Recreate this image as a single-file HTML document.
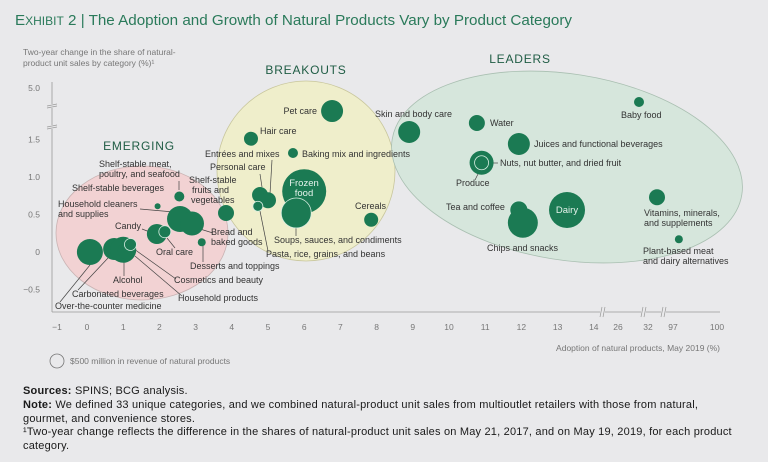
<!DOCTYPE html>
<html><head><meta charset="utf-8"><style>
body{margin:0;background:#e9e9eb;font-family:"Liberation Sans",sans-serif}
#wrap{position:relative;width:768px;height:462px;overflow:hidden;background:#e9e9eb}
svg text{font-family:"Liberation Sans",sans-serif}
.f{position:absolute;left:23px;font-size:11px;color:#1a1a1a;line-height:13.5px;width:730px;letter-spacing:0.2px}
</style></head><body>
<div id="wrap">
<svg id="c" width="768" height="462">
<text x="15" y="25" font-size="15.2" fill="#2a7a5a">E<tspan font-size="12">XHIBIT</tspan> 2 | The Adoption and Growth of Natural Products Vary by Product Category</text>
<g id="clusters"></g>
<g id="axes"></g>
<g id="lines" stroke="#444" stroke-width="0.7" fill="none"></g>
<g id="bubbles"></g>
<g id="labels" font-size="9" fill="#333"></g>
</svg>
<div class="f" style="top:385px"><b>Sources:</b> SPINS; BCG analysis.</div>
<div class="f" style="top:399px"><b>Note:</b> We defined 33 unique categories, and we combined natural-product unit sales from multioutlet retailers with those from natural,<br>gourmet, and convenience stores.</div>
<div class="f" style="top:426px">¹Two-year change reflects the difference in the shares of natural-product unit sales on May 21, 2017, and on May 19, 2019, for each product<br>category.</div>
</div>
<script>
const names=["Over-the-counter medicine","Carbonated beverages","Alcohol","Household products","Cosmetics and beauty","Candy","Oral care","Shelf-stable meat","Shelf-stable beverages","Household cleaners","Bread and baked goods","Desserts and toppings","Shelf-stable fruits","Personal care","Entrees and mixes","Pasta rice","Hair care","Pet care","Baking mix","Frozen food","Soups sauces","Cereals","Skin and body care","Water","Juices","Nuts","Produce","Tea and coffee","Chips and snacks","Dairy","Baby food","Vitamins","Plant-based meat"];
const adoption=[0.08,0.75,1.0,1.1,1.2,1.93,2.15,2.55,1.95,2.57,2.9,3.17,3.84,4.78,5.0,4.72,4.53,6.77,5.69,6.0,5.78,7.85,8.9,10.77,11.93,10.9,10.9,11.93,12.04,13.26,30.2,55.4,97.4];
const change=[0,0.04,0.03,0.02,0.1,0.24,0.27,0.74,0.61,0.44,0.38,0.13,0.52,0.76,0.69,0.61,1.52,3.42,1.32,0.81,0.52,0.43,1.98,2.6,1.44,1.19,1.19,0.56,0.39,0.56,4.04,0.73,0.17];
const revenue=[1724,1235,1724,830,367,1020,367,255,92,1724,1470,163,653,653,653,255,500,1235,255,4939,2296,500,1235,653,1235,1470,500,826,2296,3306,255,653,163];
const outlined=[4,6,15,20,26,27];
const xTicks=[-1,0,1,2,3,4,5,6,7,8,9,10,11,12,13,14,26,32,97,100];
const yTicks=[-0.5,0,0.5,1.0,1.5,5.0];
function xs(v){if(v<0)return 87+30*v;if(v<=14)return 87+36.2*v;if(v<=26)return 594+(v-14)*2;if(v<=32)return 618+(v-26)*5;if(v<=97)return 648+(v-32)*25/65;return 673+(v-97)*44/3;}
function ys(v){return v<=1.5?252-75*v:139-(v-1.5)*14.57;}
function rs(r){return 7*Math.sqrt(r/500);}
const NS="http://www.w3.org/2000/svg";
function mk(p,t,a){const e=document.createElementNS(NS,t);for(const k in a)e.setAttribute(k,a[k]);document.getElementById(p).appendChild(e);return e;}
let e;
e=mk("clusters","ellipse",{cx:142,cy:233,rx:86,ry:67,fill:"#f2d2d3",stroke:"#c9b3b3","stroke-width":0.8});


e=mk("clusters","ellipse",{cx:306,cy:171,rx:89,ry:90,fill:"#efeecb",stroke:"#c8c69c","stroke-width":0.8});


e=mk("clusters","ellipse",{cx:567,cy:167,rx:177,ry:93,fill:"#d6e6dc",stroke:"#a9bfb1","stroke-width":0.8,transform:"rotate(9 567 167)"});


e=mk("axes","line",{x1:52,y1:82,x2:52,y2:312,stroke:"#999","stroke-width":0.8});


e=mk("axes","line",{x1:52,y1:312,x2:720,y2:312,stroke:"#999","stroke-width":0.8});


[[107],[128]].forEach(b=>{mk("axes","rect",{x:47,y:b[0]-3,width:10,height:4,fill:"#e9e9eb"});mk("axes","line",{x1:47,y1:b[0]-1,x2:57,y2:b[0]-3,stroke:"#999","stroke-width":0.7});mk("axes","line",{x1:47,y1:b[0]+1,x2:57,y2:b[0]-1,stroke:"#999","stroke-width":0.7});});
[603,644,664].forEach(b=>{mk("axes","rect",{x:b-3,y:307,width:5,height:10,fill:"#e9e9eb"});mk("axes","line",{x1:b-3,y1:317,x2:b-1,y2:307,stroke:"#999","stroke-width":0.7});mk("axes","line",{x1:b,y1:317,x2:b+2,y2:307,stroke:"#999","stroke-width":0.7});});
xTicks.forEach(t=>{const el=mk("axes","text",{x:xs(t),y:330,"font-size":8.5,fill:"#777","text-anchor":"middle"});el.textContent=t<0?"\u2212"+(-t):t;

});
yTicks.forEach(t=>{const el=mk("axes","text",{x:40,y:ys(t)+3,"font-size":8.5,fill:"#777","text-anchor":"end"});el.textContent=t<0?"\u2212"+(-t).toFixed(1):(t===0?"0":t.toFixed(1));

});
[["Two-year change in the share of natural-",23,55],["product unit sales by category (%)¹",23,66]].forEach(a=>{const el=mk("axes","text",{x:a[1],y:a[2],"font-size":8.5,fill:"#777"});el.textContent=a[0];

});
e=mk("axes","text",{x:720,y:351,"font-size":8.5,fill:"#777","text-anchor":"end"});e.textContent="Adoption of natural products, May 2019 (%)";


e=mk("axes","circle",{cx:57,cy:361,r:7,fill:"none",stroke:"#777","stroke-width":0.8});


e=mk("axes","text",{x:70,y:364,"font-size":8.5,fill:"#777"});e.textContent="$500 million in revenue of natural products";


[[90,265,60,302],[108,258,78,290],[124,262,124,276],[135,256,182,296],[134,249,176,279],[142,229,155,234],[167,238,175,248],[179,190,179,181],[185,213,140,209],[200,229,213,233],[203,246,203,262],[262,187,260,174],[270,194,272,160],[260,211,268,251],[296,228,296,236],[485,163,498,163],[480,170,475,180]].forEach(l=>mk("lines","line",{x1:l[0],y1:l[1],x2:l[2],y2:l[3]}));
adoption.forEach((a,i)=>{const o=outlined.includes(i);
const c=mk("bubbles","circle",{cx:xs(a),cy:ys(change[i]),r:rs(revenue[i]),fill:"#1b7a53",stroke:o?"#d8eee2":"none","stroke-width":o?0.8:0});

});
const L=[["Pet care",317,114,"end"],["Hair care",260,134],["Entrées and mixes",205,157],["Baking mix and ingredients",302,157],["Personal care",210,170],["Shelf-stable",189,183],["fruits and",192,193],["vegetables",191,203],["Shelf-stable meat,",99,167],["poultry, and seafood",99,177],["Shelf-stable beverages",72,191],["Household cleaners",58,207],["and supplies",58,217],["Candy",115,229],["Bread and",211,235],["baked goods",211,245],["Oral care",156,255],["Soups, sauces, and condiments",274,243],["Pasta, rice, grains, and beans",266,257],["Desserts and toppings",190,269],["Alcohol",113,283],["Cosmetics and beauty",174,283],["Carbonated beverages",72,297],["Household products",178,301],["Over-the-counter medicine",55,309],["Cereals",355,209],["Skin and body care",375,117],["Water",490,126],["Juices and functional beverages",534,147],["Nuts, nut butter, and dried fruit",500,166],["Produce",456,186],["Tea and coffee",446,210],["Chips and snacks",487,251],["Baby food",621,118],["Vitamins, minerals,",644,216],["and supplements",644,226],["Plant-based meat",643,254],["and dairy alternatives",643,264]];
L.forEach(l=>{const t=mk("labels","text",{x:l[1],y:l[2],"text-anchor":l[3]||"start"});t.textContent=l[0];

});
[["Frozen",304,186],["food",304,196],["Dairy",567,213]].forEach(l=>{const t=mk("labels","text",{x:l[1],y:l[2],"text-anchor":"middle",fill:"#e6f3ec","font-size":9.5});t.textContent=l[0];

});
[["BREAKOUTS",306,74],["EMERGING",139,150],["LEADERS",520,63]].forEach(l=>{const t=mk("labels","text",{x:l[1],y:l[2],"text-anchor":"middle",fill:"#1f5c44","font-size":12,"letter-spacing":0.8});t.textContent=l[0];

});
</script>
</body></html>
